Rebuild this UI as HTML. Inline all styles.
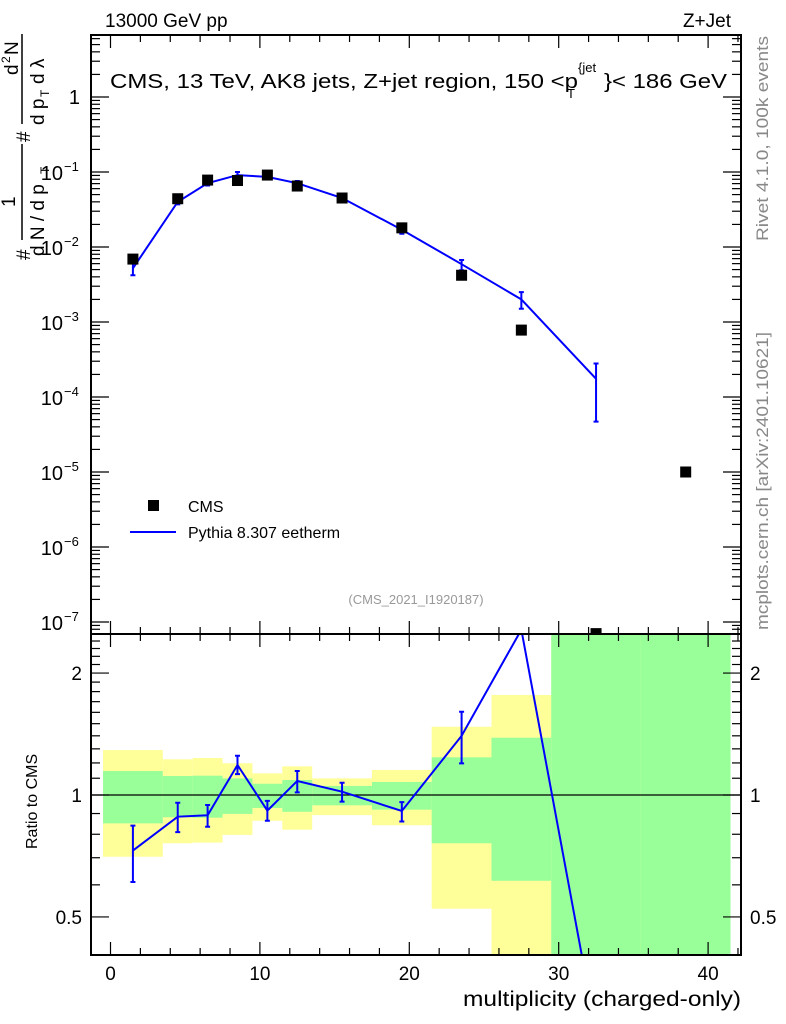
<!DOCTYPE html>
<html><head><meta charset="utf-8"><style>
html,body{margin:0;padding:0;background:#fff;overflow:hidden;width:786px;height:1024px}
svg{display:block;font-family:"Liberation Sans",sans-serif}
</style></head><body>
<svg id="c" width="786" height="1024" viewBox="0 0 786 1024">
<defs>
<clipPath id="cpTop"><rect x="91" y="35" width="650" height="599"/></clipPath>
<clipPath id="cpRat"><rect x="91" y="634" width="650" height="321"/></clipPath>
</defs>
<g id="bands" clip-path="url(#cpRat)"></g>
<g id="grid"></g>
<g id="marks"></g>
<rect x="91" y="35" width="650" height="599" fill="none" stroke="#000" stroke-width="2"/>
<rect x="91" y="634" width="650" height="321" fill="none" stroke="#000" stroke-width="2"/>
<text x="105" y="27" font-size="19">13000 GeV pp</text>
<text x="731" y="27" font-size="19" text-anchor="end">Z+Jet</text>
<g font-size="20">
<text x="110" y="88" textLength="468" lengthAdjust="spacingAndGlyphs">CMS, 13 TeV, AK8 jets, Z+jet region, 150 &lt;p</text>
<text x="578" y="72" font-size="13">{jet</text>
<text x="567" y="98" font-size="13">T</text>
<text x="604" y="88" textLength="123" lengthAdjust="spacingAndGlyphs">}&lt; 186 GeV</text>
</g>
<g font-size="19" transform="translate(0,270) rotate(-90)">
<text x="10" y="30">#</text>
<text x="63" y="15">1</text>
<line x1="30" y1="22" x2="126" y2="22" stroke="#000" stroke-width="1.5"/>
<text x="14" y="44">d N / d p</text>
<text x="96" y="49" font-size="12">T</text>
<text x="128" y="30">#</text>
<text x="195" y="18">d</text>
<text x="207" y="10" font-size="12">2</text>
<text x="215" y="18">N</text>
<line x1="146" y1="22" x2="236" y2="22" stroke="#000" stroke-width="1.5"/>
<text x="145" y="44">d p</text>
<text x="173" y="49" font-size="12">T</text>
<text x="186" y="44">  d λ</text>
</g>
<text transform="translate(37,849) rotate(-90)" font-size="16">Ratio to CMS</text>
<text x="741" y="1006" font-size="21" text-anchor="end" textLength="278" lengthAdjust="spacingAndGlyphs">multiplicity (charged-only)</text>
<text transform="translate(768,241) rotate(-90)" font-size="17" fill="#888" textLength="205" lengthAdjust="spacingAndGlyphs">Rivet 4.1.0,  100k events</text>
<text transform="translate(768,630) rotate(-90)" font-size="17" fill="#888" textLength="298" lengthAdjust="spacingAndGlyphs">mcplots.cern.ch [arXiv:2401.10621]</text>
<text x="416" y="604" font-size="13" fill="#999" text-anchor="middle">(CMS_2021_I1920187)</text>
<g>
<rect x="148" y="500" width="11" height="11" fill="#000"/>
<text x="188" y="512" font-size="16">CMS</text>
<line x1="130" y1="532" x2="176" y2="532" stroke="#00f" stroke-width="2"/>
<text x="188" y="538" font-size="16">Pythia 8.307 eetherm</text>
</g>
</svg>
<script>
const xCenters=[1.5,4.5,6.5,8.5,10.5,12.5,15.5,19.5,23.5,27.5,32.5];
const cmsX=[1.5,4.5,6.5,8.5,10.5,12.5,15.5,19.5,23.5,27.5,32.5,38.5];
const cmsVals=[6.9e-3,0.044,0.078,0.077,0.091,0.065,0.045,0.018,0.0042,7.8e-4,7e-8,1.0e-5];
const mcVals=[5.2e-3,0.040,0.071,0.091,0.086,0.071,0.045,0.017,0.0059,0.0020,1.75e-4];
const mcLo=[4.2e-3,0.037,0.066,0.082,0.080,0.066,0.042,0.015,0.0049,0.0015,4.7e-5];
const mcHi=[6.3e-3,0.043,0.076,0.100,0.092,0.076,0.048,0.019,0.0067,0.0025,2.8e-4];
const ratioVals=[0.729,0.884,0.891,1.186,0.915,1.083,1.019,0.913,1.40,2.56,0.26];
const ratioLo=[0.61,0.81,0.835,1.126,0.864,1.015,0.963,0.86,1.197,2.56,0.26];
const ratioHi=[0.84,0.957,0.945,1.25,0.967,1.146,1.072,0.96,1.605,2.56,0.26];
const binEdges=[-0.5,3.5,5.5,7.5,9.5,11.5,13.5,17.5,21.5,25.5,29.5,35.5,41.5];
const yelHi=[1.291,1.225,1.234,1.198,1.131,1.177,1.099,1.153,1.474,1.766,10,10];
const yelLo=[0.704,0.76,0.763,0.797,0.864,0.821,0.892,0.842,0.524,0.2,0.1,0.1];
const grnHi=[1.146,1.114,1.116,1.099,1.066,1.089,1.053,1.077,1.239,1.385,10,10];
const grnLo=[0.851,0.881,0.879,0.898,0.929,0.909,0.943,0.92,0.76,0.614,0.1,0.1];
const xTicks=[0,10,20,30,40];
const yDecades=[-7,-6,-5,-4,-3,-2,-1,0];
const rTicks=[0.5,1,2];

const NS='http://www.w3.org/2000/svg';
const X=v=>110.5+v*14.94;
const Y=v=>97-75*Math.log10(v);
const R=v=>795-405*Math.log10(v);
function mk(p,t,a){const e=document.createElementNS(NS,t);for(const k in a)e.setAttribute(k,a[k]);p.appendChild(e);return e;}
const bands=document.getElementById('bands'),grid=document.getElementById('grid'),marks=document.getElementById('marks');

for(let i=0;i<binEdges.length-1;i++){
  const x0=X(binEdges[i]),x1=X(binEdges[i+1]);
  const y=mk(bands,'rect',{x:x0,y:R(yelHi[i]),width:x1-x0,height:R(yelLo[i])-R(yelHi[i]),fill:'#ffff99'});
  
  
}
for(let i=0;i<binEdges.length-1;i++){
  const x0=X(binEdges[i]),x1=X(binEdges[i+1]);
  const g=mk(bands,'rect',{x:x0,y:R(grnHi[i]),width:x1-x0,height:R(grnLo[i])-R(grnHi[i]),fill:'#99ff99'});
  
  
}
const one=mk(grid,'line',{x1:91,x2:741,y1:R(1),y2:R(1),stroke:'#000','stroke-width':1.2});



for(let v=-1;v<=42;v++){
  const major=v%10===0, minor=v%2===0;
  if(!minor&&!major)continue;
  const L=major?13:7,x=X(v);
  [[35,1],[634,1],[634,-1],[955,-1]].forEach(([y0,d])=>mk(grid,'line',{x1:x,x2:x,y1:y0,y2:y0+d*L,stroke:'#000','stroke-width':1.2}));
}
xTicks.forEach(v=>{const t=mk(grid,'text',{x:X(v),y:980,'font-size':19,'text-anchor':'middle'});t.textContent=v;

});
for(let d=-8;d<=1;d++){for(let m=1;m<10;m++){const v=m*Math.pow(10,d),y=Y(v);if(y<35||y>634)continue;const L=m===1?18:9;
  mk(grid,'line',{x1:91,x2:91+L,y1:y,y2:y,stroke:'#000','stroke-width':1.2});
  mk(grid,'line',{x1:741,x2:741-L,y1:y,y2:y,stroke:'#000','stroke-width':1.2});}}
yDecades.forEach(d=>{const y=Y(Math.pow(10,d));
  if(d===0){const t=mk(grid,'text',{x:80,y:y+7,'font-size':20,'text-anchor':'end'});t.textContent='1';
    
    }
  else{const t=mk(grid,'text',{x:63,y:y+8,'font-size':20,'text-anchor':'end'});t.textContent='10';
    
    
    const s=mk(grid,'text',{x:64,y:y-1,'font-size':13});s.textContent='\u2212'+(-d);}
});
for(let v=0.4;v<2.55;v+=0.1){const y=R(v);if(y<634||y>955)continue;const vv=Math.round(v*10)/10;const L=(vv===0.5||vv===1||vv===2)?18:9;
  mk(grid,'line',{x1:91,x2:91+L,y1:y,y2:y,stroke:'#000','stroke-width':1.2});
  mk(grid,'line',{x1:741,x2:741-L,y1:y,y2:y,stroke:'#000','stroke-width':1.2});}
rTicks.forEach(v=>{const y=R(v)+7;
  const a=mk(grid,'text',{x:82,y:y,'font-size':19,'text-anchor':'end'});a.textContent=v;
  
  
  const b=mk(grid,'text',{x:750,y:y,'font-size':19});b.textContent=v;
  
  });

const gt=mk(marks,'g',{'clip-path':'url(#cpTop)'});
const pl=mk(gt,'polyline',{points:xCenters.map((x,i)=>X(x)+','+Y(mcVals[i])).join(' '),fill:'none',stroke:'#00f','stroke-width':2});


xCenters.forEach((x,i)=>{const e=mk(gt,'path',{d:`M${X(x)} ${Y(mcLo[i])}V${Y(mcHi[i])}M${X(x)-2.5} ${Y(mcLo[i])}h5M${X(x)-2.5} ${Y(mcHi[i])}h5`,stroke:'#00f','stroke-width':2});
  
  });
cmsX.forEach((x,i)=>{const r=mk(gt,'rect',{x:X(x)-5.5,y:Y(cmsVals[i])-5.5,width:11,height:11,fill:'#000'});
  
  });
const gr=mk(marks,'g',{'clip-path':'url(#cpRat)'});
const rl=mk(gr,'polyline',{points:xCenters.map((x,i)=>X(x)+','+R(ratioVals[i])).join(' '),fill:'none',stroke:'#00f','stroke-width':2});


xCenters.forEach((x,i)=>{if(ratioLo[i]===ratioHi[i])return;const e=mk(gr,'path',{d:`M${X(x)} ${R(ratioLo[i])}V${R(ratioHi[i])}M${X(x)-2.5} ${R(ratioLo[i])}h5M${X(x)-2.5} ${R(ratioHi[i])}h5`,stroke:'#00f','stroke-width':2});
  
  });
</script>
</body></html>
